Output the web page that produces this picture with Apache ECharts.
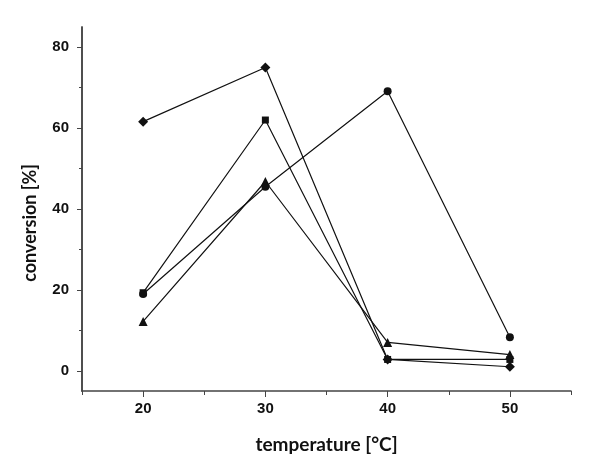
<!DOCTYPE html>
<html>
<head>
<meta charset="utf-8">
<script src="https://cdn.jsdelivr.net/npm/echarts@6/dist/echarts.min.js"></script>
<style>html,body{margin:0;padding:0;background:#fff}#c{width:600px;height:476px}</style>
</head>
<body>
<div id="c"></div>
<script>
var temperatures = [20, 30, 40, 50];
var squareSeries = [19.3, 62.0, 2.8, 2.8];
var circleSeries = [19.0, 45.5, 69.1, 8.3];
var triangleSeries = [12.2, 46.8, 7.0, 4.0];
var diamondSeries = [61.6, 75.0, 2.8, 1.0];
var xMajorTicks = [20, 30, 40, 50];
var xMinorTicks = [15, 25, 35, 45, 55];
var yMajorTicks = [0, 20, 40, 60, 80];
var yMinorTicks = [10, 30, 50, 70];

function pairs(vals) { return temperatures.map(function (t, i) { return [t, vals[i]]; }); }

var chart = echarts.init(document.getElementById('c'), null, {renderer: 'canvas'});
var axisColor = '#444';
function labelStyle(extra) {
  var o = {fontFamily: '"Liberation Sans", Arial, sans-serif', fontWeight: 'bold', fontSize: 15, color: '#111'};
  for (var k in extra) o[k] = extra[k];
  return o;
}
function nameStyle(size, extra) {
  var o = {fontFamily: 'Lato', fontWeight: 'bold', fontSize: size, color: '#111'};
  for (var k in extra) o[k] = extra[k];
  return o;
}

function lineSeries(name, symbol, size, vals) {
  return {
    name: name, type: 'line', data: pairs(vals), symbol: symbol, symbolSize: size,
    xAxisIndex: 0, yAxisIndex: 0,
    lineStyle: {color: '#111', width: 1.2},
    itemStyle: {color: '#111'},
    animation: false
  };
}

chart.setOption({
  animation: false,
  grid: {left: 82, right: 29, top: 27, bottom: 85},
  xAxis: [{
    type: 'value', min: 15, max: 55, position: 'bottom',
    name: 'temperature [°C]', nameLocation: 'middle', nameGap: 44, nameTextStyle: nameStyle(19),
    axisLine: {show: true, onZero: false, lineStyle: {color: axisColor, width: 1.5}},
    axisTick: {customValues: xMajorTicks, length: 6, lineStyle: {color: axisColor}},
    axisLabel: labelStyle({customValues: xMajorTicks, margin: 10}),
    splitLine: {show: false}
  }, {
    type: 'value', min: 15, max: 55, position: 'bottom', gridIndex: 0,
    axisLine: {show: false, onZero: false},
    axisTick: {customValues: xMinorTicks, length: 4, lineStyle: {color: axisColor}},
    axisLabel: {show: false},
    splitLine: {show: false}
  }],
  yAxis: [{
    type: 'value', min: -5, max: 85, position: 'left',
    name: 'conversion [%]', nameLocation: 'middle', nameGap: 43, nameTextStyle: nameStyle(18, {padding: [0, 28, 0, 0]}),
    axisLine: {show: true, onZero: false, lineStyle: {color: axisColor, width: 1.5}},
    axisTick: {show: true, customValues: yMajorTicks, length: 5, lineStyle: {color: axisColor}},
    axisLabel: labelStyle({customValues: yMajorTicks, margin: 13}),
    splitLine: {show: false}
  }, {
    type: 'value', min: -5, max: 85, position: 'left', gridIndex: 0,
    axisLine: {show: true, onZero: false, lineStyle: {color: axisColor, width: 1.5}},
    axisTick: {show: true, customValues: yMinorTicks, length: 3, lineStyle: {color: axisColor}},
    axisLabel: {show: false},
    splitLine: {show: false}
  }],
  series: [
    lineSeries('square', 'rect', 7, squareSeries),
    lineSeries('triangle', 'triangle', 9, triangleSeries),
    lineSeries('diamond', 'diamond', 10, diamondSeries),
    lineSeries('circle', 'circle', 8, circleSeries)
  ]
});
</script>
</body>
</html>
